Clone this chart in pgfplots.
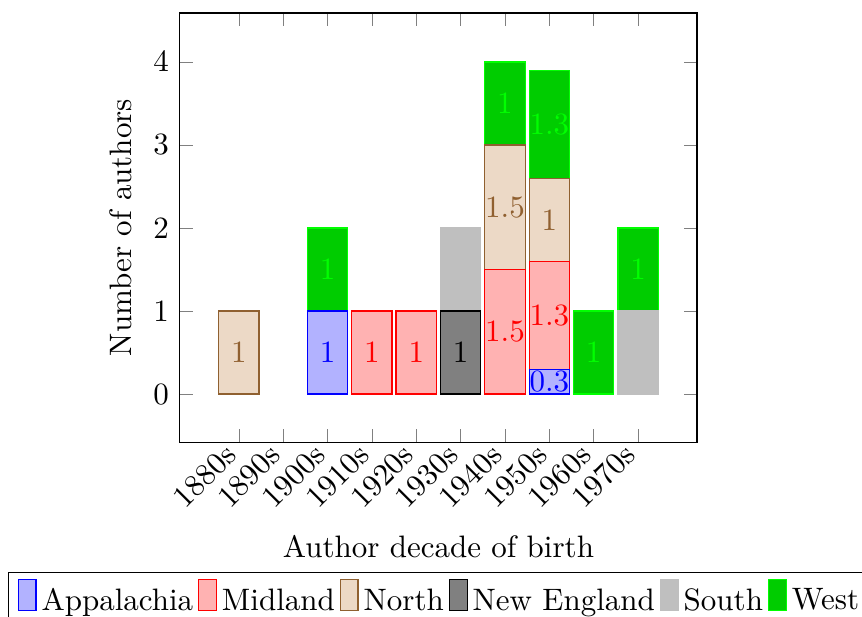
\documentclass[border=0pt]{standalone}
\usepackage{pgfplots}
\pgfplotsset{compat=1.18}
\begin{document}
\begin{tikzpicture}
\begin{axis}[
  scale only axis,
  width=166.8pt, height=138.4pt,
  xmin=-1.33, xmax=10.33,
  ymin=-0.58, ymax=4.59,
  xtick={0,1,2,3,4,5,6,7,8,9},
  xticklabels={1880s,1890s,1900s,1910s,1920s,1930s,1940s,1950s,1960s,1970s},
  xticklabel style={rotate=45, anchor=east},
  ytick={0,1,2,3,4},
  xlabel={Author decade of birth},
  ylabel={Number of authors},
  legend style={at={(0.506,-0.303)}, anchor=north, legend columns=-1, /tikz/column sep=-0.4pt},
  reverse legend,
  legend image code/.code={\draw[#1] (0cm,-0.1cm) rectangle (0.2cm,0.25cm);},
  every node near coord/.append style={anchor=center},
]
% bars drawn from 0 to the top of each segment (top of stack first)
\addplot[ybar, bar width=13pt, bar shift=0pt, fill=green!80!black, draw=green]
  coordinates {(2,2) (6,4) (7,3.9) (8,1) (9,2)};
\addlegendentry{West}
\addplot[ybar, bar width=13pt, bar shift=0pt, fill=lightgray, draw=lightgray]
  coordinates {(5,2) (9,1)};
\addlegendentry{South}
\addplot[ybar, bar width=13pt, bar shift=0pt, fill=black!50, draw=black]
  coordinates {(5,1)};
\addlegendentry{New England}
\addplot[ybar, bar width=13pt, bar shift=0pt, fill=brown!30, draw=brown!75!black]
  coordinates {(0,1) (6,3) (7,2.6)};
\addlegendentry{North}
\addplot[ybar, bar width=13pt, bar shift=0pt, fill=red!30, draw=red]
  coordinates {(3,1) (4,1) (6,1.5) (7,1.6)};
\addlegendentry{Midland}
\addplot[ybar, bar width=13pt, bar shift=0pt, fill=blue!30, draw=blue]
  coordinates {(2,1) (7,0.3)};
\addlegendentry{Appalachia}
% segment value labels, at the middle of each segment
\addplot[forget plot, draw=none, mark=none, nodes near coords, point meta=explicit symbolic,
  every node near coord/.append style={text=blue}]
  coordinates {(2,0.5)[1] (7,0.15)[0.3]};
\addplot[forget plot, draw=none, mark=none, nodes near coords, point meta=explicit symbolic,
  every node near coord/.append style={text=red}]
  coordinates {(3,0.5)[1] (4,0.5)[1] (6,0.75)[1.5] (7,0.95)[1.3]};
\addplot[forget plot, draw=none, mark=none, nodes near coords, point meta=explicit symbolic,
  every node near coord/.append style={text=brown!75!black}]
  coordinates {(0,0.5)[1] (6,2.25)[1.5] (7,2.1)[1]};
\addplot[forget plot, draw=none, mark=none, nodes near coords, point meta=explicit symbolic,
  every node near coord/.append style={text=black}]
  coordinates {(5,0.5)[1]};
\addplot[forget plot, draw=none, mark=none, nodes near coords, point meta=explicit symbolic,
  every node near coord/.append style={text=lightgray}]
  coordinates {(5,1.5)[1] (9,0.5)[1]};
\addplot[forget plot, draw=none, mark=none, nodes near coords, point meta=explicit symbolic,
  every node near coord/.append style={text=green}]
  coordinates {(2,1.5)[1] (6,3.5)[1] (7,3.25)[1.3] (8,0.5)[1] (9,1.5)[1]};
\end{axis}
\pgfresetboundingbox
\path ([shift={(-58pt,-56.1pt)}]current axis.south west) rectangle ([shift={(53.2pt,4.2pt)}]current axis.north east);
\end{tikzpicture}
\end{document}
